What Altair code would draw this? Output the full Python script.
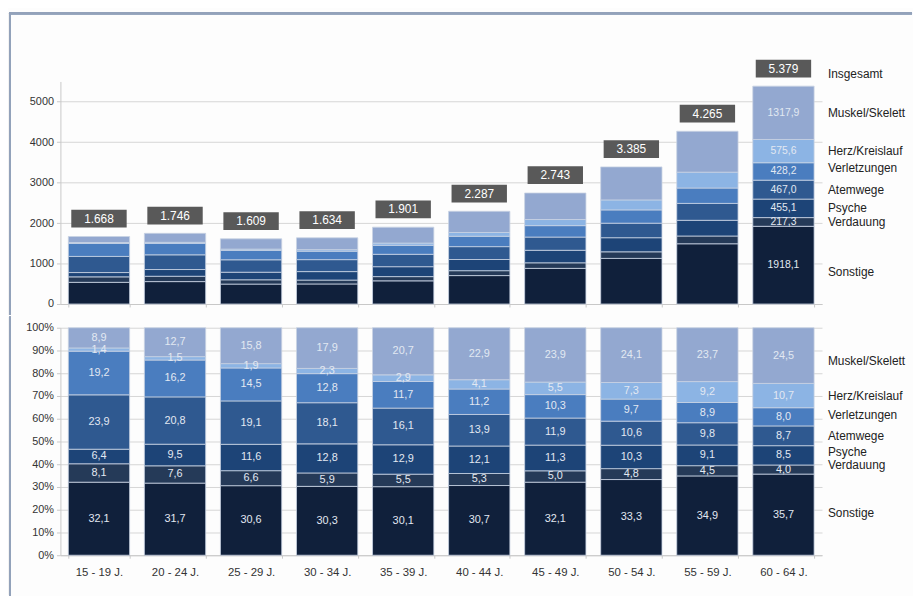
import altair as alt
import pandas as pd

ages = ["15 - 19 J.", "20 - 24 J.", "25 - 29 J.", "30 - 34 J.", "35 - 39 J.",
        "40 - 44 J.", "45 - 49 J.", "50 - 54 J.", "55 - 59 J.", "60 - 64 J."]
categories = ["Sonstige", "Verdauung", "Psyche", "Atemwege", "Verletzungen",
              "Herz/Kreislauf", "Muskel/Skelett"]
totals = [1668, 1746, 1609, 1634, 1901, 2287, 2743, 3385, 4265, 5379]
pct_sonstige = [32.1, 31.7, 30.6, 30.3, 30.1, 30.7, 32.1, 33.3, 34.9, 35.7]
pct_verdauung = [8.1, 7.6, 6.6, 5.9, 5.5, 5.3, 5.0, 4.8, 4.5, 4.0]
pct_psyche = [6.4, 9.5, 11.6, 12.8, 12.9, 12.1, 11.3, 10.3, 9.1, 8.5]
pct_atemwege = [23.9, 20.8, 19.1, 18.1, 16.1, 13.9, 11.9, 10.6, 9.8, 8.7]
pct_verletzungen = [19.2, 16.2, 14.5, 12.8, 11.7, 11.2, 10.3, 9.7, 8.9, 8.0]
pct_herz = [1.4, 1.5, 1.9, 2.3, 2.9, 4.1, 5.5, 7.3, 9.2, 10.7]
pct_muskel = [8.9, 12.7, 15.8, 17.9, 20.7, 22.9, 23.9, 24.1, 23.7, 24.5]
abs_last = [1918.1, 217.3, 455.1, 467.0, 428.2, 575.6, 1317.9]
colors = ["#10203b", "#253a58", "#1d4477", "#2f5990", "#4a7dbf", "#8cb4e4", "#93a8d0"]
top_ticks = [0, 1000, 2000, 3000, 4000, 5000]
pct_ticks = [0, 0.1, 0.2, 0.3, 0.4, 0.5, 0.6, 0.7, 0.8, 0.9, 1.0]

pct_series = [pct_sonstige, pct_verdauung, pct_psyche, pct_atemwege,
              pct_verletzungen, pct_herz, pct_muskel]

rows = []
for i, age in enumerate(ages):
    for j, cat in enumerate(categories):
        rows.append({
            "age": age, "cat": cat, "order": j, "pct": pct_series[j][i],
            "total": totals[i],
            "abslabel": abs_last[j] if i == len(ages) - 1 else None,
        })
df = pd.DataFrame(rows)
df_tot = pd.DataFrame({"age": ages, "total": totals})
last_age = ages[-1]

FONT = "Liberation Sans"
W = 770
H_TOP = 225
H_BOT = 230
FRAME = "#93a2ba"
AX = "#c8c8c8"

xscale = alt.Scale(domain=ages, paddingInner=0.194, paddingOuter=0.104)
cscale = alt.Scale(domain=categories, range=colors)
ytop = alt.Scale(domain=[0, 5500], nice=False)
ybot = alt.Scale(domain=[0, 1], nice=False)

x_axis_top = alt.Axis(labels=False, tickBand="extent", tickSize=3,
                      domainColor=AX, tickColor=AX, grid=False, title=None)
x_axis_bot = alt.Axis(labelFont=FONT, labelFontSize=11.5, labelColor="#333",
                      labelAngle=0, tickBand="extent", tickSize=3,
                      labelPadding=9, domainColor=AX, tickColor=AX,
                      grid=False, title=None)
y_axis_top = alt.Axis(values=top_ticks, format="d", labelFont=FONT,
                      labelFontSize=11, labelColor="#333", labelOverlap=False,
                      tickSize=4, tickColor=AX, domainColor=AX,
                      gridColor="#d6d6d6", labelPadding=3, title=None)
y_axis_bot = alt.Axis(values=pct_ticks, format=".0%", labelFont=FONT,
                      labelFontSize=11, labelColor="#333", labelOverlap=False,
                      tickSize=4, tickColor=AX, domainColor=AX,
                      gridColor="#d6d6d6", labelPadding=3, title=None)


def XT():
    return alt.X("age:N", sort=ages, scale=xscale, axis=x_axis_top, title=None)


def XB():
    return alt.X("age:N", sort=ages, scale=xscale, axis=x_axis_bot, title=None)


def YT(field):
    return alt.Y(field, scale=ytop, axis=y_axis_top, title=None)


def YB(field):
    return alt.Y(field, scale=ybot, axis=y_axis_bot, title=None)


# ---------------- top panel ----------------
top_base = alt.Chart(df).transform_calculate(
    val="datum.total * datum.pct / 100"
).transform_stack(
    stack="val", groupby=["age"], sort=[alt.SortField("order")], as_=["v0", "v1"]
).transform_calculate(vm="(datum.v0 + datum.v1) / 2")

top_bars = top_base.mark_bar(stroke="#c9d3e3", strokeWidth=0.8).encode(
    x=XT(), y=YT("v0:Q"), y2="v1:Q",
    color=alt.Color("cat:N", scale=cscale, legend=None),
)

top_seg_labels = top_base.transform_filter(
    alt.datum.age == last_age
).transform_calculate(
    lab="replace(format(datum.abslabel, '.1f'), '.', ',')"
).mark_text(font=FONT, fontSize=10.5, color="#e2e8f2").encode(
    x=XT(), y=YT("vm:Q"), text="lab:N",
)

top_nudge = {"Sonstige": 7, "Verletzungen": -3}
top_cat_labels = []
for cat in categories:
    top_cat_labels.append(
        top_base.transform_filter(
            (alt.datum.age == last_age) & (alt.datum.cat == cat)
        ).mark_text(font=FONT, fontSize=12, color="#222", align="left",
                    dx=45, dy=top_nudge.get(cat, 0)).encode(
            x=XT(), y=YT("vm:Q"), text="cat:N",
        )
    )

tot_base = alt.Chart(df_tot).transform_calculate(
    lab="replace(format(datum.total, ','), ',', '.')"
)
box_path = "M-1,-0.32L1,-0.32L1,0.32L-1,0.32Z"
tot_boxes = tot_base.mark_point(shape=box_path, size=3136, filled=True,
                                color="#595959", opacity=1, strokeWidth=0,
                                yOffset=-18).encode(
    x=XT(), y=YT("total:Q"),
)
tot_text = tot_base.mark_text(font=FONT, fontSize=12, color="#ffffff",
                              yOffset=-18).encode(
    x=XT(), y=YT("total:Q"), text="lab:N",
)
insg = tot_base.transform_filter(alt.datum.age == last_age).mark_text(
    font=FONT, fontSize=12, color="#222", align="left", dx=45, yOffset=-12
).encode(
    x=XT(), y=YT("total:Q"), text=alt.value("Insgesamt"),
)

frame_top_h = alt.Chart(df_tot).mark_rule(color=FRAME, strokeWidth=2).encode(
    x=alt.value(-52), x2=alt.value(861), y=alt.value(-69)
)
frame_top_v = alt.Chart(df_tot).mark_rule(color=FRAME, strokeWidth=2).encode(
    x=alt.value(-51), y=alt.value(-70), y2=alt.value(H_TOP + 11)
)

top = alt.layer(top_bars, top_seg_labels, *top_cat_labels, tot_boxes, tot_text,
                insg, frame_top_h, frame_top_v).properties(width=W, height=H_TOP)

# ---------------- bottom panel ----------------
bot_base = alt.Chart(df).transform_stack(
    stack="pct", groupby=["age"], sort=[alt.SortField("order")],
    as_=["p0", "p1"], offset="normalize"
).transform_calculate(
    pm="(datum.p0 + datum.p1) / 2",
    lab="replace(format(datum.pct, '.1f'), '.', ',')",
)

bot_bars = bot_base.mark_bar(stroke="#c9d3e3", strokeWidth=0.8).encode(
    x=XB(), y=YB("p0:Q"), y2="p1:Q",
    color=alt.Color("cat:N", scale=cscale, legend=None),
)
bot_seg_labels = bot_base.mark_text(font=FONT, fontSize=11, color="#e2e8f2").encode(
    x=XB(), y=YB("pm:Q"), text="lab:N",
)
bot_nudge = {"Muskel/Skelett": 6, "Verletzungen": -2, "Psyche": -3,
             "Verdauung": -5, "Sonstige": -2}
bot_cat_labels = []
for cat in categories:
    bot_cat_labels.append(
        bot_base.transform_filter(
            (alt.datum.age == last_age) & (alt.datum.cat == cat)
        ).mark_text(font=FONT, fontSize=12, color="#222", align="left",
                    dx=45, dy=bot_nudge.get(cat, 0)).encode(
            x=XB(), y=YB("pm:Q"), text="cat:N",
        )
    )
frame_bot_v = alt.Chart(df_tot).mark_rule(color=FRAME, strokeWidth=2).encode(
    x=alt.value(-51), y=alt.value(-11), y2=alt.value(271)
)

bottom = alt.layer(bot_bars, bot_seg_labels, *bot_cat_labels,
                   frame_bot_v).properties(width=W, height=H_BOT)

chart = alt.vconcat(top, bottom, spacing=0).properties(
    padding=0, background="#fdfdfd"
).configure_view(stroke=None)

chart.save("out.html", embed_options={"renderer": "svg", "actions": False})
